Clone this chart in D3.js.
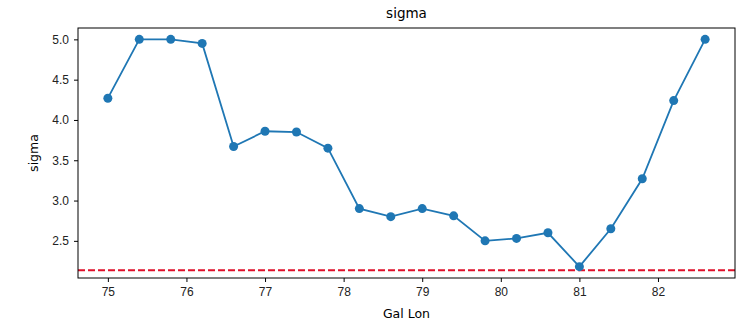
<!DOCTYPE html>
<html>
<head>
<meta charset="utf-8">
<script src="https://cdn.jsdelivr.net/npm/d3@7"></script>
<style>
  body { margin: 0; background: #fff; }
  svg { font-family: "DejaVu Sans", sans-serif; }
  .axis path, .axis line { stroke: #000; }
  .axis text { fill: #222; font-size: 12px; }
</style>
</head>
<body>
<svg id="chart"></svg>
<script>
// gal lon / sigma values
var galLon = [75.0, 75.4, 75.8, 76.2, 76.6, 77.0, 77.4, 77.8, 78.2, 78.6,
              79.0, 79.4, 79.8, 80.2, 80.6, 81.0, 81.4, 81.8, 82.2, 82.6];
var sigma = [4.27, 5.0, 5.0, 4.95, 3.67, 3.86, 3.85, 3.65, 2.90, 2.80,
             2.90, 2.81, 2.50, 2.53, 2.60, 2.18, 2.65, 3.27, 4.24, 5.0];
var threshold = 2.134;
var xTicks = [75, 76, 77, 78, 79, 80, 81, 82];
var yTicks = [2.5, 3.0, 3.5, 4.0, 4.5, 5.0];

var W = 748, H = 321;
var margin = { top: 28, right: 13, bottom: 43, left: 78 },
    width = W - margin.left - margin.right,
    height = H - margin.top - margin.bottom;

var svg = d3.select("#chart")
        .attr("width", W)
        .attr("height", H);

var g = svg.append("g")
        .attr("transform", "translate(" + margin.left + "," + margin.top + ")");

// matplotlib-style 5% padding
var xExt = d3.extent(galLon), yExt = d3.extent(sigma);
var xPad = (xExt[1] - xExt[0]) * 0.05, yPad = (yExt[1] - yExt[0]) * 0.05;

var x = d3.scaleLinear()
        .domain([xExt[0] - xPad, xExt[1] + xPad])
        .range([0, width]);

var y = d3.scaleLinear()
        .domain([yExt[0] - yPad, yExt[1] + yPad])
        .range([height, 0]);

g.append("g")
    .attr("class", "x axis")
    .attr("transform", "translate(0," + height + ")")
    .call(d3.axisBottom(x).tickValues(xTicks).tickSize(4).tickPadding(5).tickFormat(d3.format("d")))
    .call(function (s) { s.select(".domain").remove(); });

g.append("g")
    .attr("class", "y axis")
    .call(d3.axisLeft(y).tickValues(yTicks).tickSize(4).tickPadding(5).tickFormat(d3.format(".1f")))
    .call(function (s) { s.select(".domain").remove(); });

// threshold line
g.append("line")
    .attr("x1", 0)
    .attr("x2", width)
    .attr("y1", y(threshold))
    .attr("y2", y(threshold))
    .attr("stroke", "#e0102a")
    .attr("stroke-width", 2)
    .attr("stroke-dasharray", "7,3");

var line = d3.line()
        .x(function (d, i) { return x(galLon[i]); })
        .y(function (d) { return y(d); });

g.append("path")
    .datum(sigma)
    .attr("d", line)
    .attr("fill", "none")
    .attr("stroke", "#1f77b4")
    .attr("stroke-width", 1.8);

g.selectAll("circle.pt")
    .data(sigma)
    .enter()
    .append("circle")
    .attr("class", "pt")
    .attr("cx", function (d, i) { return x(galLon[i]); })
    .attr("cy", function (d) { return y(d); })
    .attr("r", 4.5)
    .attr("fill", "#1f77b4");

// frame
g.append("rect")
    .attr("width", width)
    .attr("height", height)
    .attr("fill", "none")
    .attr("stroke", "#000")
    .attr("stroke-width", 1);

svg.append("text")
    .attr("x", margin.left + width / 2)
    .attr("y", 18)
    .attr("text-anchor", "middle")
    .style("font-size", "13.5px")
    .text("sigma");

svg.append("text")
    .attr("x", margin.left + width / 2)
    .attr("y", 318)
    .attr("text-anchor", "middle")
    .style("font-size", "12.5px")
    .text("Gal Lon");

svg.append("text")
    .attr("transform", "translate(38," + (margin.top + height / 2) + ") rotate(-90)")
    .attr("text-anchor", "middle")
    .style("font-size", "12.5px")
    .text("sigma");
</script>
</body>
</html>
